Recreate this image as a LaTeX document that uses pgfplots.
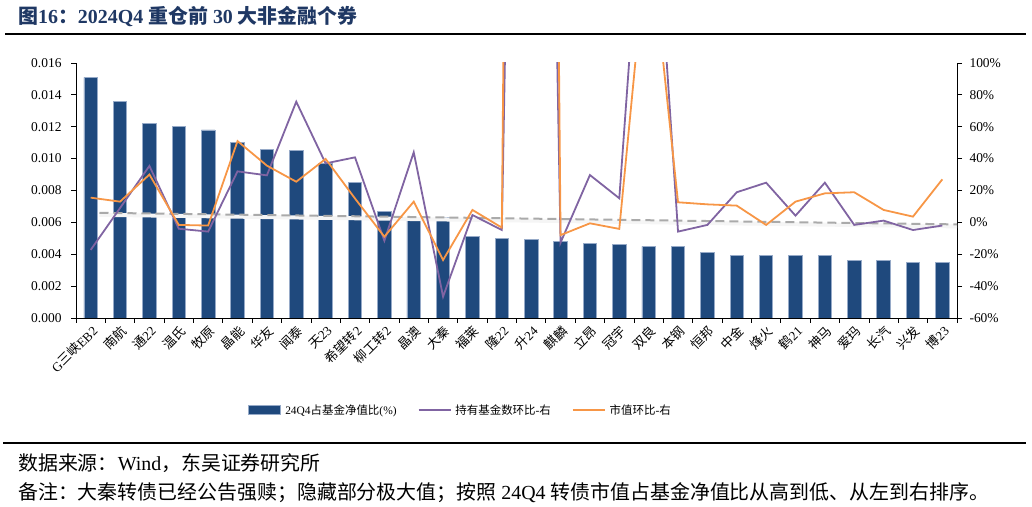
\documentclass[border=0pt]{standalone}
\usepackage{fontspec}
\setmainfont{Liberation Serif}
\newfontfamily\cjk{Noto Sans CJK SC}
\newcommand\zh[1]{{\cjk #1}}
\usepackage{pgfplots}
\usepackage{pgfplotstable}
\pgfplotsset{compat=1.18}

\definecolor{barblue}{RGB}{31,73,125}
\definecolor{baredge}{RGB}{150,170,200}
\definecolor{lpurple}{RGB}{128,100,162}
\definecolor{lorange}{RGB}{247,150,70}
\definecolor{titleblue}{RGB}{31,56,100}
\definecolor{trendgray}{RGB}{170,170,170}

\pgfplotsset{
  barleg/.style={legend image code/.code={\draw[##1] (0bp,-4.5bp) rectangle (32bp,4.5bp);}},
  lineleg/.style={legend image code/.code={\draw[##1] (0bp,0bp) -- (32bp,0bp);}},
}

% x: category index, bar: 24Q4 share of fund NAV, fund / mv: QoQ change in % (right axis)
\pgfplotstableread{
x  bar     fund   mv
0  0.0151  -17.3  15.5
1  0.0136    9.0  13.0
2  0.0122   35.4  30.0
3  0.0120   -4.0  -1.6
4  0.0118   -5.8  -2.0
5  0.0110   32.0  51.0
6  0.0106   29.5  35.6
7  0.0105   75.7  25.5
8  0.0097   37.0  39.8
9  0.0085   40.8  15.0
10 0.0067  -11.5  -9.0
11 0.0063   44.0  13.0
12 0.0063  -46.6 -23.6
13 0.0051    4.6   7.8
14 0.0050   -4.8  -3.3
15 0.0049 1000.0 2000.0
16 0.0048  -12.7  -8.0
17 0.0047   29.7  -0.6
18 0.0046   15.1  -4.1
19 0.0045  270.0 187.0
20 0.0045   -5.8  12.6
21 0.0041   -1.6  11.3
22 0.0039   18.9  10.5
23 0.0039   24.9  -1.6
24 0.0039    4.2  13.0
25 0.0039   24.9  18.2
26 0.0036   -1.6  18.9
27 0.0036    1.1   7.8
28 0.0035   -4.8   3.6
29 0.0035   -2.0  27.0
}\datatab

\begin{document}
\begin{tikzpicture}[x=1bp,y=1bp]
\path[use as bounding box] (0,0) rectangle (1032,507);

% title and rules
\node[anchor=west, inner sep=0, text=titleblue,
      font=\fontsize{20}{20}\selectfont\bfseries] at (18,491)
  {\zh{图}16\zh{：}2024Q4 \zh{重仓前} 30 \zh{大非金融个券}};
\draw[line width=2bp] (5,473) -- (1026,473);
\draw[line width=2.5bp] (3,64) -- (1026,64);
\node[anchor=west, inner sep=0, font=\fontsize{20}{20}\selectfont] at (18,44)
  {\zh{数据来源：}Wind\zh{，东吴证券研究所}};
\node[anchor=west, inner sep=0, font=\fontsize{20}{20}\selectfont] at (18,14)
  {\zh{备注：大秦转债已经公告强赎；隐藏部分极大值；按照} 24Q4 \zh{转债市值占基金净值比从高到低、从左到右排序。}};

% left axis: bars
\begin{axis}[
    at={(76bp,189bp)}, anchor=south west,
    scale only axis, width=881bp, height=255bp,
    xmin=-0.5, xmax=29.5, ymin=0, ymax=0.016,
    axis x line*=bottom, axis y line*=left,
    axis line style={-, line width=0.8bp},
    tick align=outside, major tick length=5bp,
    tick style={black, line width=0.8bp},
    xtick={-0.5,0.5,...,29.5}, x tick label as interval,
    xticklabels={G\zh{三峡}EB2,\zh{南航},\zh{通}22,\zh{温氏},\zh{牧原},\zh{晶能},\zh{华友},\zh{闻泰},\zh{天}23,\zh{希望转}2,
                 \zh{柳工转}2,\zh{晶澳},\zh{大秦},\zh{福莱},\zh{隆}22,\zh{升}24,\zh{麒麟},\zh{立昂},\zh{冠宇},\zh{双良},
                 \zh{本钢},\zh{恒邦},\zh{中金},\zh{烽火},\zh{鹤}21,\zh{神马},\zh{爱玛},\zh{长汽},\zh{兴发},\zh{博}23},
    x tick label style={rotate=45, anchor=north east, inner sep=1bp,
                        font=\fontsize{13}{13}\selectfont},
    scaled y ticks=false,
    ytick={0,0.002,0.004,0.006,0.008,0.01,0.012,0.014,0.016},
    yticklabels={0.000,0.002,0.004,0.006,0.008,0.010,0.012,0.014,0.016},
    y tick label style={font=\fontsize{13.5}{13.5}\selectfont, xshift=-6bp},
    ybar, bar width=13.5bp,
]
\addplot[fill=barblue, draw=baredge, line width=0.8bp] table[x=x,y=bar]{\datatab};
\end{axis}

% right axis: lines
\begin{axis}[
    at={(76bp,189bp)}, anchor=south west,
    scale only axis, width=881bp, height=255bp,
    xmin=-0.5, xmax=29.5, ymin=-60, ymax=100,
    axis x line=none, axis y line*=right,
    axis line style={-, line width=0.8bp},
    tick align=outside, major tick length=5bp,
    tick style={black, line width=0.8bp},
    ytick={-60,-40,-20,0,20,40,60,80,100},
    yticklabels={-60\%,-40\%,-20\%,0\%,20\%,40\%,60\%,80\%,100\%},
    y tick label style={font=\fontsize{13.5}{13.5}\selectfont, xshift=4bp},
    legend columns=3,
    legend style={at={(0.436,-0.361)}, anchor=center, draw=none,
                  font=\fontsize{11.5}{11.5}\selectfont,
                  nodes={inner sep=1bp},
                  /tikz/every odd column/.append style={column sep=3bp},
                  /tikz/every even column/.append style={column sep=20bp}},
]
\addlegendimage{fill=barblue, draw=baredge, line width=0.8bp, barleg}
\addlegendentry{24Q4\zh{占基金净值比}(\%)}
\addplot[forget plot, black!4, line width=4bp, yshift=-2bp] coordinates {(0.3,6.0) (29.6,-1.3)};
\addplot[forget plot, trendgray, line width=2bp, dash pattern=on 9bp off 5bp] coordinates {(0.3,6.0) (29.6,-1.3)};
\addplot[lpurple, line width=1.8bp, lineleg] table[x=x,y=fund]{\datatab};
\addlegendentry{\zh{持有基金数环比}-\zh{右}}
\addplot[lorange, line width=1.8bp, lineleg] table[x=x,y=mv]{\datatab};
\addlegendentry{\zh{市值环比}-\zh{右}}
\end{axis}
\end{tikzpicture}
\end{document}
